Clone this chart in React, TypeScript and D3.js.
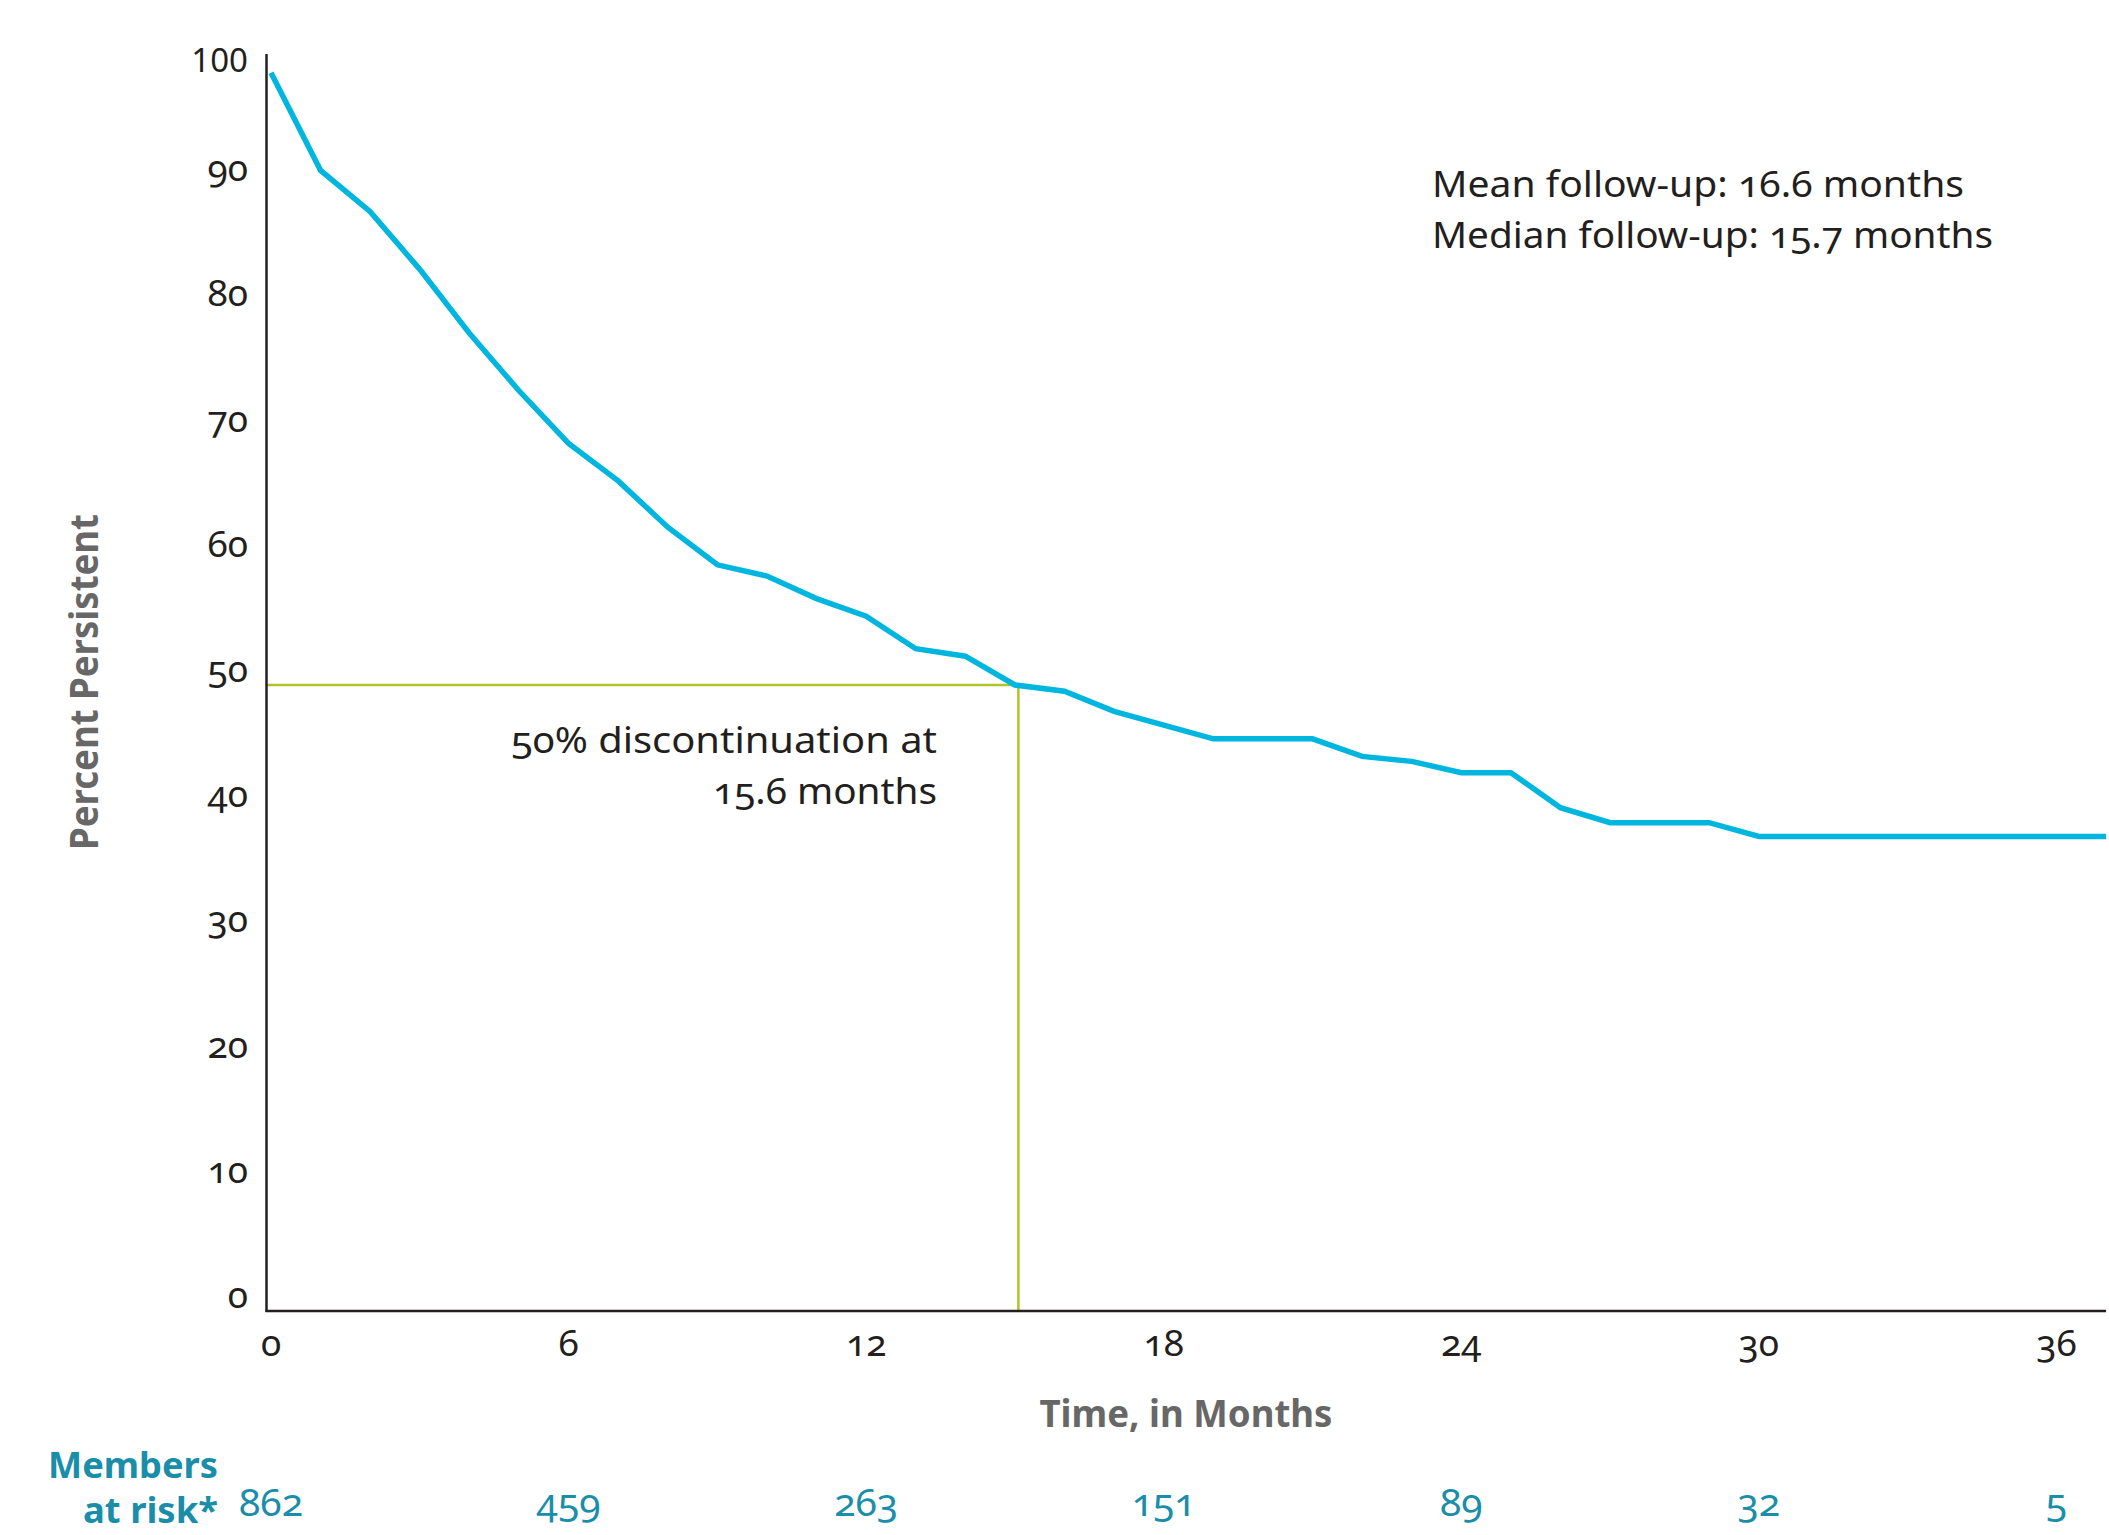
import React from 'react';
import * as d3 from 'd3';

// ---- data ----
const months: number[] = [
  0, 1, 2, 3, 4, 5, 6, 7, 8, 9, 10, 11, 12, 13, 14, 15, 16, 17, 18, 19,
  20, 21, 22, 23, 24, 25, 26, 27, 28, 29, 30, 31, 32, 33, 34, 35, 36, 37,
];
const percentPersistent: number[] = [
  98.9, 91.1, 87.8, 83.2, 78.1, 73.5, 69.3, 66.3, 62.6, 59.6, 58.7, 56.9, 55.5,
  52.9, 52.3, 50.0, 49.5, 47.9, 46.8, 45.7, 45.7, 45.7, 44.3, 43.9, 43.0, 43.0,
  40.2, 39.0, 39.0, 39.0, 37.9, 37.9, 37.9, 37.9, 37.9, 37.9, 37.9, 37.9,
];
const xTicks: number[] = [0, 6, 12, 18, 24, 30, 36];
const yTicks: number[] = [0, 10, 20, 30, 40, 50, 60, 70, 80, 90, 100];
const membersAtRisk: number[] = [862, 459, 263, 151, 89, 32, 5];
const medianMonth = 15.07;
const medianPercent = 50;
const followUpLines: string[] = ['Mean follow-up: 16.6 months', 'Median follow-up: 15.7 months'];
const followUpWidths: number[] = [532, 561];
const annotationLines: string[] = ['50% discontinuation at', '15.6 months'];
const annotationWidths: number[] = [426, 224];

// ---- layout ----
const W = 2109;
const H = 1535;
const LEFT = 271;
const RIGHT = 2106;
const BOTTOM = 1311;
const TOP = 59;
const AXIS_X = 266.5;
const AXIS_TOP = 54;

const FONT = "'Noto Sans', 'Open Sans', sans-serif";
const INK = '#231f20';
const BLUE = '#00b6df';
const GREEN = '#b3c227';
const TEAL = '#1a8ea9';
const GREY = '#676767';

export default function App() {
  const x = d3.scaleLinear().domain([0, 37]).range([LEFT, RIGHT]);
  const y = d3.scaleLinear().domain([0, 100]).range([BOTTOM, TOP]);
  const pts = months.map((m, i) => [m, percentPersistent[i]] as [number, number]);
  const line = d3
    .line<[number, number]>()
    .x((d) => x(d[0]))
    .y((d) => y(d[1]));

  const numStyle: React.CSSProperties = { fontVariantNumeric: 'oldstyle-nums' };
  const liningStyle: React.CSSProperties = { fontVariantNumeric: 'lining-nums' };

  return (
    <svg
      width={W}
      height={H}
      viewBox={`0 0 ${W} ${H}`}
      style={{ position: 'absolute', left: 0, top: 0, background: '#fff', display: 'block' }}
      fontFamily={FONT}
    >
      <rect x={0} y={0} width={W} height={H} fill="#fff" />

      {/* median guide lines */}
      <line
        x1={AXIS_X}
        x2={x(medianMonth)}
        y1={y(medianPercent)}
        y2={y(medianPercent)}
        stroke={GREEN}
        strokeWidth={2.5}
      />
      <line
        x1={x(medianMonth)}
        x2={x(medianMonth)}
        y1={y(medianPercent)}
        y2={BOTTOM}
        stroke={GREEN}
        strokeWidth={2.5}
      />

      {/* axes */}
      <line x1={AXIS_X} x2={AXIS_X} y1={AXIS_TOP} y2={BOTTOM + 1} stroke={INK} strokeWidth={2.5} />
      <line x1={AXIS_X - 1} x2={RIGHT} y1={BOTTOM} y2={BOTTOM} stroke={INK} strokeWidth={2.5} />

      {/* y tick labels */}
      {yTicks.map((v) => (
        <text
          key={'y' + v}
          x={248}
          y={Math.max(y(v) - 3, AXIS_TOP + 18)}
          textAnchor="end"
          fontSize={v === 100 ? 33 : 37}
          fill={INK}
          style={v === 100 ? liningStyle : numStyle}
        >
          {v}
        </text>
      ))}

      {/* x tick labels */}
      {xTicks.map((t) => (
        <text
          key={'x' + t}
          x={x(t)}
          y={1356}
          textAnchor="middle"
          fontSize={37}
          fill={INK}
          style={numStyle}
        >
          {t}
        </text>
      ))}

      {/* curve */}
      <path
        d={line(pts) || ''}
        fill="none"
        stroke={BLUE}
        strokeWidth={5.5}
        strokeLinejoin="miter"
      />

      {/* axis titles */}
      <text
        x={1186}
        y={1427}
        textAnchor="middle"
        fontSize={37}
        fontWeight={700}
        fill={GREY}
        textLength={293}
        lengthAdjust="spacingAndGlyphs"
      >
        Time, in Months
      </text>
      <text
        transform={`translate(98, 682) rotate(-90)`}
        textAnchor="middle"
        fontSize={39}
        fontWeight={700}
        fill={GREY}
        textLength={336}
        lengthAdjust="spacingAndGlyphs"
      >
        Percent Persistent
      </text>

      {/* follow-up note */}
      {followUpLines.map((s, i) => (
        <text
          key={'f' + i}
          x={1432}
          y={197 + i * 51}
          fontSize={37}
          fill={INK}
          style={numStyle}
          textLength={followUpWidths[i]}
          lengthAdjust="spacingAndGlyphs"
        >
          {s}
        </text>
      ))}

      {/* median annotation */}
      {annotationLines.map((s, i) => (
        <text
          key={'a' + i}
          x={937}
          y={753 + i * 51}
          textAnchor="end"
          fontSize={37}
          fill={INK}
          style={numStyle}
          textLength={annotationWidths[i]}
          lengthAdjust="spacingAndGlyphs"
        >
          {s}
        </text>
      ))}

      {/* members at risk */}
      <text x={218} y={1478} textAnchor="end" fontSize={36} fontWeight={700} fill={TEAL} textLength={170} lengthAdjust="spacingAndGlyphs">
        Members
      </text>
      <text x={218} y={1523} textAnchor="end" fontSize={36} fontWeight={700} fill={TEAL} textLength={135} lengthAdjust="spacingAndGlyphs">
        at risk*
      </text>
      {membersAtRisk.map((n, i) => (
        <text
          key={'r' + i}
          x={x(xTicks[i])}
          y={1516}
          textAnchor="middle"
          fontSize={39}
          fill={TEAL}
          style={numStyle}
        >
          {n}
        </text>
      ))}
    </svg>
  );
}
